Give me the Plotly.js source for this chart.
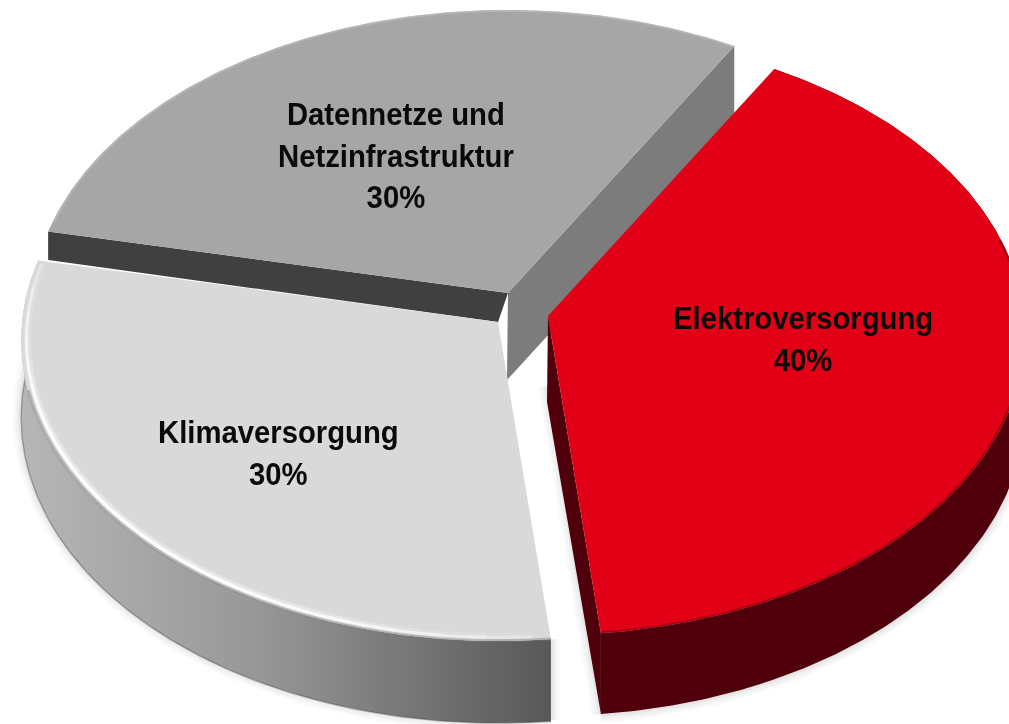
<!DOCTYPE html>
<html><head><meta charset="utf-8">
<script src="https://cdn.plot.ly/plotly-3.0.1.min.js"></script>
<style>
html,body{margin:0;padding:0;background:#fff;overflow:hidden}
#c{width:1009px;height:724px;filter:blur(0.5px)}
.annotation-text{transform-box:fill-box;transform-origin:center;transform:scaleX(0.915)}
</style>
</head><body><div id="c"></div>
<script>
const categories = ['Elektroversorgung', 'Klimaversorgung', 'Datennetze und<br>Netzinfrastruktur'];
const values = [40, 30, 30];
const topColors = ['#e10015', '#d9d9d9', '#a6a6a6'];

// Perspective pie geometry (image pixels map to the hidden axes)
const startAngle = 30, A = 476, B = 300, K = 0.06, D = 76;
const apexes = [[548, 316], [498, 322], [508, 293]];
const labelPos = [[803, 338], [278, 452], [396, 155]];

const total = values.reduce((a, b) => a + b, 0);
const spans = [];
let acc = startAngle;
values.forEach(v => { spans.push([acc, acc + v / total * 360]); acc += v / total * 360; });

function pt(deg, apex, r = 1, drop = 0) {
  const t = deg * Math.PI / 180, u = Math.sin(t) * r, v = Math.cos(t) * r, w = 1 + K * v;
  return [apex[0] + A * u / w, apex[1] - B * v / w + (drop ? drop / w : 0)];
}
function arc(a0, a1, apex, r = 1, drop = 0) {
  const out = [], n = Math.max(2, Math.ceil(Math.abs(a1 - a0) * 2));
  for (let i = 0; i <= n; i++) out.push(pt(a0 + (a1 - a0) * i / n, apex, r, drop));
  return out;
}
const traces = [];
function poly(points, color, grad) {
  const tr = { x: points.map(p => p[0]).concat(points[0][0]), y: points.map(p => p[1]).concat(points[0][1]),
    mode: 'lines', fill: 'toself', fillcolor: color, line: { width: 0, color: 'rgba(0,0,0,0)' }, hoverinfo: 'skip' };
  if (grad) tr.fillgradient = grad;
  traces.push(tr);
}
function stroke(points, color, width) {
  traces.push({ x: points.map(p => p[0]), y: points.map(p => p[1]), mode: 'lines',
    line: { color, width, shape: 'linear' }, hoverinfo: 'skip' });
}
const [sR, sL, sG] = spans;
const [aR, aL, aG] = apexes;

// soft ground shadow
[[18, 'rgba(0,0,0,0.025)'], [12, 'rgba(0,0,0,0.03)'], [6, 'rgba(0,0,0,0.04)']].forEach(([w, c]) => {
  stroke(arc(sL[0], sL[1] - 4, aL, 1, D), c, w);
  stroke(arc(sR[0] + 50, sR[1], aR, 1, D), c, w);
  stroke([pt(sL[0], aL, 1, D), pt(sL[0], aL)], c, w);
  stroke([pt(sR[1], aR, 1, D), [aR[0] - 1, aR[1] + 70]], c, w);
});

// grey slice: two cut faces, then top
poly([aG, [aG[0] - 1, aG[1] + 87], pt(sG[1], aG, 1, D + 14), pt(sG[1], aG)], '#7c7c7c');
poly([aG, [aG[0] - 10, aG[1] + 29], pt(sG[0], aG, 1, 29), pt(sG[0], aG)], '#404040');
poly([aG].concat(arc(sG[0], sG[1], aG)), topColors[2]);
stroke(arc(sG[0] + 2, sG[1], aG, 0.997), 'rgba(190,190,190,0.6)', 2);

// light slice: wall, top, highlight built from nested arcs so it fades towards the ends
poly(arc(sL[0], sL[1], aL).concat(arc(sL[1], sL[0], aL, 1, D + 1)), '#888888',
  { type: 'horizontal', colorscale: [[0, '#b6b6b6'], [0.45, '#979797'], [1, '#585858']] });
stroke(arc(sL[0], sL[1] - 4, aL, 1, D + 1), 'rgba(70,70,70,0.4)', 1.5);
poly([aL].concat(arc(sL[0], sL[1], aL)), topColors[1]);
stroke(arc(sL[0], sL[1] - 25, aL, 0.999), 'rgba(120,120,120,0.4)', 3);
const rimLevels = 8, span = sL[1] - sL[0];
for (let i = 0; i < rimLevels; i++) {
  const f = i / (rimLevels - 1);
  const a0 = sL[0] + span * (0.02 + 0.34 * f), a1 = sL[1] - span * (0.005 + 0.3 * f);
  stroke(arc(a0, a1, aL, 0.987), 'rgba(255,255,255,0.07)', 7);
  stroke(arc(a0, a1, aL, 0.989), 'rgba(255,255,255,0.28)', 3);
}

// red slice: cut face, wall, top, soft edge
poly(arc(sR[0], sR[1], aR).concat(arc(sR[1], sR[0], aR, 1, D)), '#50000a');
poly([aR, [aR[0] - 1, aR[1] + 86], pt(sR[1], aR, 1, D), pt(sR[1], aR)], '#50000a');
poly([aR].concat(arc(sR[0], sR[1], aR)), topColors[0]);
stroke(arc(sR[0] + 45, sR[1], aR, 0.998), 'rgba(80,0,10,0.4)', 2.5);
stroke(arc(sR[0] + 45, sR[1], aR, 0.992), 'rgba(225,0,21,0.6)', 2);

const annotations = categories.map((c, i) => ({
  x: labelPos[i][0], y: labelPos[i][1], xref: 'x', yref: 'y', showarrow: false,
  text: '<b>' + c + '<br>' + values[i] + '%</b>', align: 'center',
  font: { family: '"Liberation Sans", Arial, sans-serif', size: 32, color: '#0a0a0a' }
}));

Plotly.newPlot('c', traces, {
  width: 1009, height: 724, margin: { l: 0, r: 0, t: 0, b: 0 }, showlegend: false,
  paper_bgcolor: '#fff', plot_bgcolor: '#fff',
  xaxis: { range: [0, 1009], visible: false, fixedrange: true },
  yaxis: { range: [724, 0], visible: false, fixedrange: true },
  annotations
}, { displayModeBar: false, staticPlot: true });
</script></body></html>
